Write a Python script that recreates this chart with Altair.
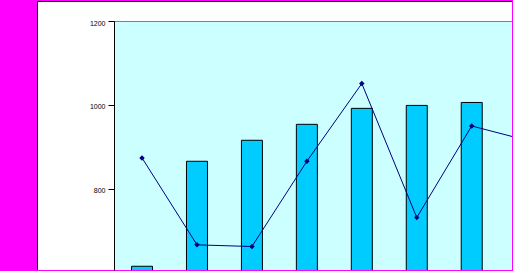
import altair as alt
import pandas as pd

# Series read per category (1..8); the bar series has no 8th value in view
categories = [1, 2, 3, 4, 5, 6, 7, 8]
bar_values = [616, 866, 916, 954, 992, 999, 1006]
line_values = [874, 667, 663, 866, 1051, 732, 950, 916]
y_ticks = [800, 1000, 1200]

bars_df = pd.DataFrame({"cat": categories[: len(bar_values)], "value": bar_values})
line_df = pd.DataFrame({"cat": categories, "value": line_values})
one_row = pd.DataFrame({"k": [0]})

W, H = 398, 249

x_scale = alt.Scale(domain=[0.49, 7.733], nice=False, zero=False, padding=0)
y_scale = alt.Scale(domain=[607.1, 1200], nice=False, zero=False, padding=0)

x_enc = alt.X("cat:Q", scale=x_scale, axis=None)
y_enc = alt.Y(
    "value:Q",
    scale=y_scale,
    axis=alt.Axis(
        values=y_ticks,
        format="d",
        title="",
        grid=False,
        domainColor="black",
        domainWidth=1,
        tickColor="black",
        tickSize=6,
        tickWidth=1,
        labelFont="Liberation Sans",
        labelFontSize=7,
        labelColor="black",
        labelPadding=3,
        labelOffset=2,
        zindex=1,
    ),
)

# chart-area frame: black edge with white fill inside
frame_edge = alt.Chart(one_row).mark_rect(color="black").encode(
    x=alt.value(-77), x2=alt.value(W), y=alt.value(-20), y2=alt.value(H)
)
frame_fill = alt.Chart(one_row).mark_rect(color="white").encode(
    x=alt.value(-76), x2=alt.value(W), y=alt.value(-19), y2=alt.value(H)
)
# plot-area background and its grey top border
plot_fill = alt.Chart(one_row).mark_rect(color="#CCFFFF").encode(
    x=alt.value(0), x2=alt.value(W), y=alt.value(0), y2=alt.value(H)
)
plot_top = alt.Chart(one_row).mark_rule(color="#808080", strokeWidth=1).encode(
    x=alt.value(0), x2=alt.value(W), y=alt.value(0.5)
)

bars = alt.Chart(bars_df).mark_bar(
    fill="#00CCFF", stroke="black", strokeWidth=1, size=21, clip=True
).encode(x=x_enc, y=y_enc)

line = alt.Chart(line_df).mark_line(
    color="#000080", strokeWidth=1, clip=True
).encode(x=x_enc, y=y_enc)

points = alt.Chart(line_df).mark_point(
    shape="diamond", filled=True, size=30, color="#000080", opacity=1, clip=True
).encode(x=x_enc, y=y_enc)

chart = (
    alt.layer(frame_edge, frame_fill, plot_fill, plot_top, bars, line, points)
    .properties(
        width=W,
        height=H,
        padding={"left": 114, "top": 21, "right": 1, "bottom": 1},
        autosize=alt.AutoSizeParams(type="none"),
        background="#FF00FF",
    )
    .configure_view(stroke="transparent")
)

chart.save("out.html", embed_options={"renderer": "svg", "actions": False})
